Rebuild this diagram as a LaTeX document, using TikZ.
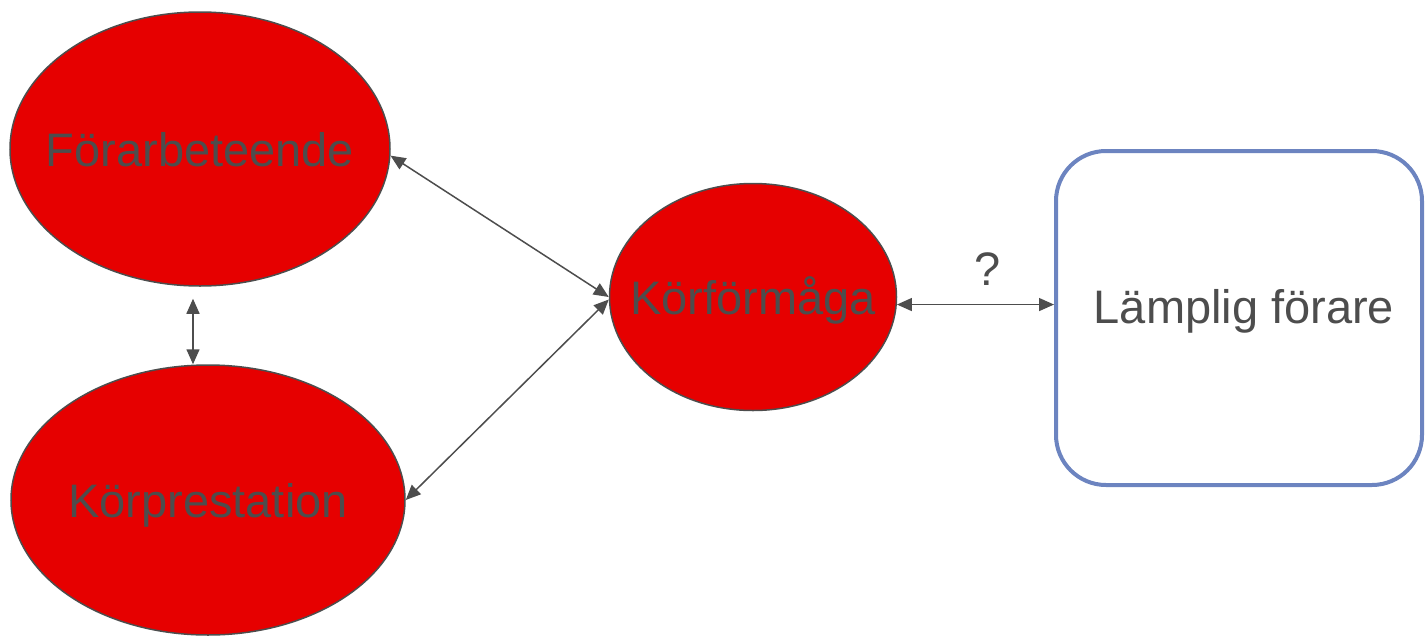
\documentclass[tikz,border=0pt]{standalone}
\usepackage{fontspec}
\setmainfont{Liberation Sans}
\usetikzlibrary{shapes.geometric,arrows.meta}
\definecolor{redfill}{HTML}{E60000}
\definecolor{edgegray}{HTML}{4D4D4D}
\definecolor{boxblue}{HTML}{6C84C0}
\begin{document}
\begin{tikzpicture}[x=1pt,y=-1pt,
  txt/.style={text=edgegray, font=\fontsize{47}{56}\selectfont, text height=34pt, text depth=0pt},
  bubble/.style={ellipse, draw=edgegray, line width=1.5pt, fill=redfill, inner sep=0pt, txt},
  link/.style={draw=edgegray, line width=1.5pt, {Triangle[length=15pt,width=13pt]}-{Triangle[length=15pt,width=13pt]}},
  goalbox/.style={draw=boxblue, line width=4pt, rounded corners=50pt, fill=white}]
\useasboundingbox (0,0) rectangle (1425,635);
\node[bubble, minimum width=380pt, minimum height=274pt] (fb) at (200,149) {\makebox[0pt]{Förarbeteende}};
\node[bubble, minimum width=394pt, minimum height=270pt] (kp) at (208,500) {\makebox[0pt]{Körprestation}};
\node[bubble, minimum width=287pt, minimum height=227pt] (kf) at (753,297) {\makebox[0pt]{Körförmåga}};
\node[goalbox, minimum width=366pt, minimum height=334pt] (lf) at (1239,318) {};
\node[txt] (lft) at (1244,306) {Lämplig förare};
\draw[link] (fb.-2) -- (kf.west);
\draw[link] (kf.-179) -- (kp.east);
\draw[link] ([xshift=-7pt,yshift=-12pt]fb.south) -- ([xshift=-15pt]kp.north);
\draw[link] (kf.-3) -- (kf.-3 -| lf.west);
\node[txt] (q) at (988,268) {?};
\end{tikzpicture}
\end{document}
